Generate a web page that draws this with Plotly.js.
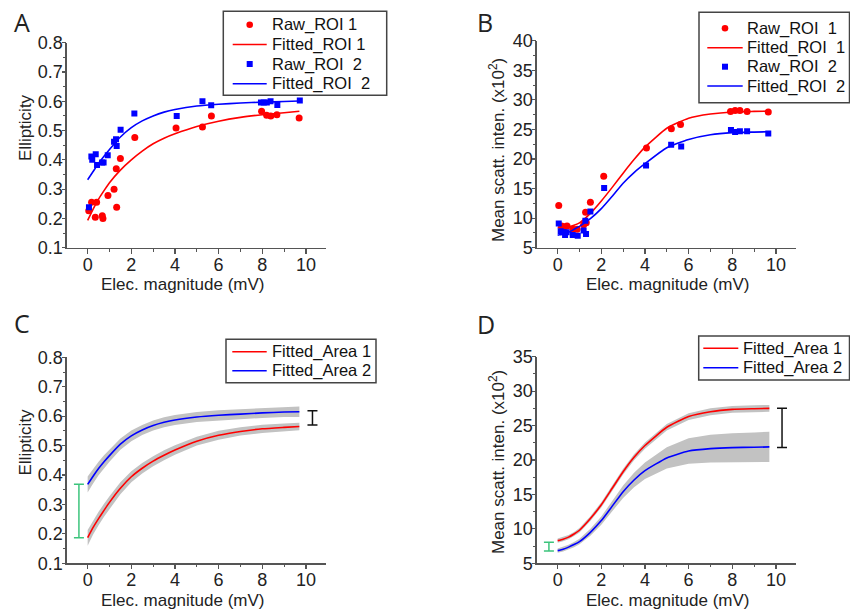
<!DOCTYPE html>
<html>
<head>
<meta charset="utf-8">
<script src="https://cdn.plot.ly/plotly-3.0.1.min.js"></script>
<style>html,body{margin:0;padding:0;background:#fff;}#chart{width:850px;height:610px;}</style>
</head>
<body>
<div id="chart"></div>
<script>
// ---------- Panel A: raw ellipticity ----------
const rawA1x = [0.05,0.18,0.35,0.41,0.67,0.70,0.93,1.21,1.31,1.33,1.50,2.16,4.05,5.26,5.67,7.97,8.20,8.39,8.67,9.69];
const rawA1y = [0.226,0.255,0.204,0.255,0.209,0.200,0.278,0.300,0.370,0.238,0.405,0.476,0.509,0.512,0.550,0.566,0.552,0.550,0.554,0.543];
const rawA2x = [0.06,0.17,0.21,0.37,0.43,0.66,0.73,0.92,1.21,1.30,1.33,1.51,2.14,4.08,5.26,5.66,7.94,8.07,8.21,8.38,8.69,9.72];
const rawA2y = [0.238,0.411,0.400,0.419,0.382,0.391,0.391,0.416,0.462,0.470,0.447,0.503,0.558,0.550,0.600,0.586,0.596,0.596,0.596,0.600,0.587,0.603];
// fitted curves (sampled at fitX)
const fitX  = [0,0.25,0.5,0.75,1,1.5,2,2.5,3,3.5,4,5,6,7,8,9,9.7];
const fitA1 = [0.193,0.232,0.266,0.295,0.322,0.365,0.400,0.430,0.455,0.474,0.489,0.514,0.532,0.545,0.554,0.561,0.566];
const fitA2 = [0.332,0.360,0.388,0.412,0.435,0.478,0.510,0.533,0.550,0.563,0.572,0.584,0.590,0.594,0.597,0.599,0.601];

// ---------- Panel B: raw mean scattering intensity ----------
const rawB1x = [0.05,0.18,0.32,0.43,0.70,0.89,1.19,1.28,1.31,1.50,2.11,4.07,5.21,5.63,7.92,8.13,8.35,8.68,9.65];
const rawB1y = [12.15,8.66,8.55,8.66,8.1,8.1,8.9,11.0,9.2,12.7,17.1,21.85,25.1,25.85,28.05,28.2,28.2,28.05,27.95];
const rawB2x = [0.05,0.14,0.24,0.34,0.41,0.69,0.92,1.19,1.27,1.30,1.50,2.13,4.05,5.20,5.66,7.94,8.13,8.35,8.68,9.65];
const rawB2y = [9.1,7.8,7.6,7.15,7.6,7.15,7.0,7.9,9.55,7.3,11.1,15.1,18.9,22.4,22.1,24.9,24.55,24.7,24.7,24.3];
const fitB1 = [8.4,8.4,8.5,8.8,9.2,10.8,12.9,15.2,17.6,19.9,22.0,25.2,26.9,27.6,27.95,28.05,28.1];
const fitB2 = [7.1,7.3,7.6,8.1,8.6,9.9,11.6,13.7,15.9,17.7,19.2,21.9,23.3,24.1,24.45,24.55,24.6];

// ---------- Panel C: fitted ellipticity per area, with confidence band ----------
const fitC1   = [0.187,0.222,0.252,0.280,0.307,0.355,0.394,0.423,0.447,0.467,0.485,0.515,0.535,0.548,0.557,0.562,0.565];
const fitC1hi = [0.213,0.246,0.275,0.302,0.328,0.375,0.413,0.441,0.464,0.484,0.501,0.530,0.550,0.562,0.571,0.575,0.578];
const fitC1lo = [0.160,0.198,0.229,0.258,0.286,0.335,0.375,0.405,0.430,0.450,0.469,0.500,0.520,0.534,0.543,0.549,0.552];
const fitC2   = [0.368,0.396,0.422,0.445,0.466,0.505,0.533,0.553,0.568,0.579,0.587,0.597,0.603,0.607,0.611,0.614,0.615];
const fitC2hi = [0.395,0.421,0.445,0.467,0.487,0.524,0.551,0.570,0.585,0.596,0.604,0.614,0.620,0.624,0.628,0.631,0.633];
const fitC2lo = [0.341,0.371,0.399,0.423,0.445,0.486,0.515,0.536,0.551,0.562,0.570,0.580,0.586,0.590,0.594,0.597,0.597];
const errCx = [-0.40, 10.30];
const errCy = [0.278, 0.594];
const errCd = [0.091, 0.024];

// ---------- Panel D: fitted intensity per area, with confidence band ----------
const fitD1   = [8.29,8.5,8.8,9.25,9.8,11.5,13.5,15.9,18.3,20.4,22.1,24.75,26.3,27.0,27.35,27.45,27.5];
const fitD1hi = [8.59,8.8,9.1,9.55,10.12,11.85,13.88,16.3,18.72,20.84,22.55,25.22,26.8,27.5,27.85,27.95,28.0];
const fitD1lo = [7.99,8.2,8.5,8.95,9.48,11.15,13.12,15.5,17.88,19.96,21.65,24.28,25.8,26.5,26.85,26.95,27.0];
const fitD2   = [6.84,7.05,7.35,7.72,8.15,9.5,11.2,13.3,15.4,17.1,18.45,20.3,21.3,21.65,21.8,21.85,21.9];
const fitD2hi = [7.14,7.37,7.70,8.10,8.55,10.0,11.8,14.05,16.3,18.15,19.65,21.85,23.15,23.65,23.9,24.0,24.1];
const fitD2lo = [6.54,6.73,7.00,7.34,7.75,9.0,10.6,12.55,14.5,16.05,17.25,18.75,19.45,19.65,19.7,19.7,19.7];
const errDx = [-0.40, 10.28];
const errDy = [7.43, 24.65];
const errDd = [0.63, 2.85];

// legend labels
const sp = '\u00a0';
const legA = ['Raw_ROI' + sp + '1', 'Fitted_ROI' + sp + '1', 'Raw_ROI' + sp + sp + '2', 'Fitted_ROI' + sp + sp + '2'];
const legB = ['Raw_ROI' + sp + sp + '1', 'Fitted_ROI' + sp + sp + '1', 'Raw_ROI' + sp + sp + '2', 'Fitted_ROI' + sp + sp + '2'];
const legCD = ['Fitted_Area 1', 'Fitted_Area 2'];

// ---------- styling ----------
const RED = '#ff0000', BLUE = '#0000ff', BAND = '#c2c2c2', GREEN = '#3cc47c';
const FONT = '"Liberation Sans", Arial, Helvetica, sans-serif';

function band(xs, hi, lo, xa, ya) {
  return {x: xs.concat(xs.slice().reverse()), y: hi.concat(lo.slice().reverse()),
    xaxis: xa, yaxis: ya, type: 'scatter', mode: 'lines', fill: 'toself',
    fillcolor: BAND, line: {width: 0, color: BAND}, showlegend: false, hoverinfo: 'skip'};
}
function line(xs, ys, color, name, xa, ya) {
  return {x: xs, y: ys, xaxis: xa, yaxis: ya, type: 'scatter', mode: 'lines', name: name,
    line: {color: color, width: 1.6, shape: 'spline', smoothing: 0.5}, showlegend: false};
}
function pts(xs, ys, color, sym, size, name, xa, ya) {
  return {x: xs, y: ys, xaxis: xa, yaxis: ya, type: 'scatter', mode: 'markers', name: name,
    marker: {color: color, symbol: sym, size: size}, showlegend: false};
}
function errs(xs, ys, ds, xa, ya) {
  return xs.map((x, i) => ({x: [x], y: [ys[i]], xaxis: xa, yaxis: ya, type: 'scatter', mode: 'markers',
    marker: {size: 1, color: 'rgba(0,0,0,0)'}, showlegend: false, hoverinfo: 'skip',
    error_y: {type: 'data', array: [ds[i]], visible: true, color: i === 0 ? GREEN : '#111', thickness: 1.5, width: 5}}));
}
function tickHolder(xa, ya) {
  return {x: [null], y: [null], xaxis: xa, yaxis: ya, type: 'scatter', mode: 'markers', showlegend: false, hoverinfo: 'skip'};
}

const traces = [
  pts(rawA1x, rawA1y, RED, 'circle', 7, legA[0], 'x', 'y'),
  line(fitX, fitA1, RED, legA[1], 'x', 'y'),
  pts(rawA2x, rawA2y, BLUE, 'square', 6, legA[2], 'x', 'y'),
  line(fitX, fitA2, BLUE, legA[3], 'x', 'y'),

  pts(rawB1x, rawB1y, RED, 'circle', 7, legB[0], 'x2', 'y2'),
  line(fitX, fitB1, RED, legB[1], 'x2', 'y2'),
  pts(rawB2x, rawB2y, BLUE, 'square', 6, legB[2], 'x2', 'y2'),
  line(fitX, fitB2, BLUE, legB[3], 'x2', 'y2'),

  band(fitX, fitC1hi, fitC1lo, 'x3', 'y3'),
  band(fitX, fitC2hi, fitC2lo, 'x3', 'y3'),
  line(fitX, fitC1, RED, legCD[0], 'x3', 'y3'),
  line(fitX, fitC2, BLUE, legCD[1], 'x3', 'y3'),
  ...errs(errCx, errCy, errCd, 'x3', 'y3'),

  band(fitX, fitD1hi, fitD1lo, 'x4', 'y4'),
  band(fitX, fitD2hi, fitD2lo, 'x4', 'y4'),
  line(fitX, fitD1, RED, legCD[0], 'x4', 'y4'),
  line(fitX, fitD2, BLUE, legCD[1], 'x4', 'y4'),
  ...errs(errDx, errDy, errDd, 'x4', 'y4'),

  tickHolder('x5', 'y5'), tickHolder('x6', 'y6'), tickHolder('x7', 'y7'), tickHolder('x8', 'y8')
];

const W = 850, H = 610;
const px = v => v / W, py = v => 1 - v / H;
const XR = [-0.96, 10.92];

// label axes: line + tick labels, no tick marks (keeps labels close to the line)
function xax(d0, d1, anchor) {
  return {domain: [px(d0), px(d1)], range: XR, anchor: anchor,
    showline: true, linecolor: '#555', linewidth: 1.4, showgrid: false, zeroline: false,
    ticks: '', dtick: 2, tick0: 0,
    tickfont: {family: FONT, size: 18, color: '#222'}, fixedrange: true};
}
function yax(top, bot, anchor, r, dt) {
  return {domain: [py(bot), py(top)], range: r, anchor: anchor,
    showline: true, linecolor: '#555', linewidth: 1.4, showgrid: false, zeroline: false,
    ticks: '', dtick: dt, tick0: 0, ticklabelstandoff: -1,
    tickfont: {family: FONT, size: 18, color: '#222'}, fixedrange: true};
}
// overlay axes: only the outside tick marks (major + minor)
function xticks(over, anchor) {
  return {overlaying: over, anchor: anchor, side: 'bottom', range: XR, showline: false, showgrid: false, zeroline: false,
    showticklabels: false, ticks: 'outside', ticklen: 5, tickwidth: 1.2, tickcolor: '#555', dtick: 2, tick0: 0,
    minor: {ticks: 'outside', ticklen: 3, tickwidth: 1, tickcolor: '#555', dtick: 1, tick0: 0, showgrid: false}, fixedrange: true};
}
function yticks(over, anchor, r, dt) {
  return {overlaying: over, anchor: anchor, side: 'left', range: r, showline: false, showgrid: false, zeroline: false,
    showticklabels: false, ticks: 'outside', ticklen: 4, tickwidth: 1.2, tickcolor: '#555', dtick: dt, tick0: 0,
    minor: {ticks: 'outside', ticklen: 3, tickwidth: 1, tickcolor: '#555', dtick: dt / 2, tick0: 0, showgrid: false}, fixedrange: true};
}
function ann(text, x, y, opts) {
  return Object.assign({text: text, x: px(x), y: py(y), xref: 'paper', yref: 'paper', showarrow: false,
    xanchor: 'center', yanchor: 'middle', font: {family: FONT, size: 17, color: '#222'}}, opts || {});
}

// hand-built legends (box, symbols, labels) positioned in pixels
const shapes = [], anns = [];
function legendBox(x0, y0, x1, y1) {
  shapes.push({type: 'rect', xref: 'paper', yref: 'paper', x0: px(x0), x1: px(x1), y0: py(y1), y1: py(y0),
    line: {color: '#444', width: 1.5}, fillcolor: '#ffffff', layer: 'above'});
}
function legendEntry(kind, color, rowY, lx0, lx1, textX, label) {
  const mx = (lx0 + lx1) / 2;
  if (kind === 'line') {
    shapes.push({type: 'line', xref: 'paper', yref: 'paper', x0: px(lx0), x1: px(lx1), y0: py(rowY), y1: py(rowY),
      line: {color: color, width: 1.6}, layer: 'above'});
  } else if (kind === 'circle') {
    shapes.push({type: 'circle', xref: 'paper', yref: 'paper', x0: px(mx - 3.3), x1: px(mx + 3.3), y0: py(rowY + 3.3), y1: py(rowY - 3.3),
      line: {width: 0}, fillcolor: color, layer: 'above'});
  } else {
    shapes.push({type: 'rect', xref: 'paper', yref: 'paper', x0: px(mx - 3), x1: px(mx + 3), y0: py(rowY + 3), y1: py(rowY - 3),
      line: {width: 0}, fillcolor: color, layer: 'above'});
  }
  anns.push({text: label, x: px(textX - 2), y: py(rowY), xref: 'paper', yref: 'paper', showarrow: false,
    xanchor: 'left', yanchor: 'middle', font: {family: FONT, size: 16.5, color: '#111'}});
}
// A
legendBox(223.3, 11.3, 386.7, 95.3);
[['circle', RED], ['line', RED], ['square', BLUE], ['line', BLUE]].forEach((k, i) =>
  legendEntry(k[0], k[1], [24.7, 44.5, 64, 83.8][i], 232.7, 266.7, 271.7, legA[i]));
// B
legendBox(699, 12.3, 849.5, 102.7);
[['circle', RED], ['line', RED], ['square', BLUE], ['line', BLUE]].forEach((k, i) =>
  legendEntry(k[0], k[1], [28.3, 47.7, 66.7, 86][i], 707.3, 742.7, 746.7, legB[i]));
// C
legendBox(226, 339.3, 376, 382.7);
legendEntry('line', RED, 351.7, 232.3, 266.7, 271.7, legCD[0]);
legendEntry('line', BLUE, 370.7, 232.3, 266.7, 271.7, legCD[1]);
// D
legendBox(698.7, 336, 849.5, 380);
legendEntry('line', RED, 348.3, 703.3, 738.3, 743.3, legCD[0]);
legendEntry('line', BLUE, 367.7, 703.3, 738.3, 743.3, legCD[1]);

const LETTER = {family: '"Open Sans", Lato, sans-serif', size: 25, color: '#222'};
const ytitleB = 'Mean scatt. inten. (x10<sup>2</sup>)';

const layout = {
  width: W, height: H, margin: {l: 0, r: 0, t: 0, b: 0, autoexpand: false},
  paper_bgcolor: '#fff', plot_bgcolor: 'rgba(0,0,0,0)', showlegend: false,
  xaxis:  xax(66.7, 326, 'y'),
  yaxis:  yax(42.7, 247.7, 'x', [0.1, 0.8], 0.1),
  xaxis2: xax(536.7, 796, 'y2'),
  yaxis2: yax(40.7, 247.7, 'x2', [5, 40], 5),
  xaxis3: xax(66.7, 326, 'y3'),
  yaxis3: yax(357.3, 563.3, 'x3', [0.1, 0.8], 0.1),
  xaxis4: xax(536.7, 796, 'y4'),
  yaxis4: yax(356.7, 563.3, 'x4', [5, 35], 5),
  xaxis5: xticks('x', 'y'),   yaxis5: yticks('y', 'x', [0.1, 0.8], 0.1),
  xaxis6: xticks('x2', 'y2'), yaxis6: yticks('y2', 'x2', [5, 40], 5),
  xaxis7: xticks('x3', 'y3'), yaxis7: yticks('y3', 'x3', [0.1, 0.8], 0.1),
  xaxis8: xticks('x4', 'y4'), yaxis8: yticks('y4', 'x4', [5, 35], 5),
  shapes: shapes,
  annotations: [
    ann('A', 22, 22, {font: LETTER}),
    ann('B', 485, 22, {font: LETTER}),
    ann('C', 22, 323, {font: LETTER}),
    ann('D', 486, 324, {font: LETTER}),
    ann('Elec. magnitude (mV)', 182.5, 284.5),
    ann('Elec. magnitude (mV)', 667.5, 284.5),
    ann('Elec. magnitude (mV)', 182.5, 600),
    ann('Elec. magnitude (mV)', 667.5, 600),
    ann('Ellipticity', 25, 128, {textangle: -90}),
    ann(ytitleB, 497, 150, {textangle: -90}),
    ann('Ellipticity', 24.5, 442, {textangle: -90}),
    ann(ytitleB, 497, 462, {textangle: -90})
  ].concat(anns)
};

Plotly.newPlot('chart', traces, layout, {staticPlot: true, displayModeBar: false});
</script>
</body>
</html>
